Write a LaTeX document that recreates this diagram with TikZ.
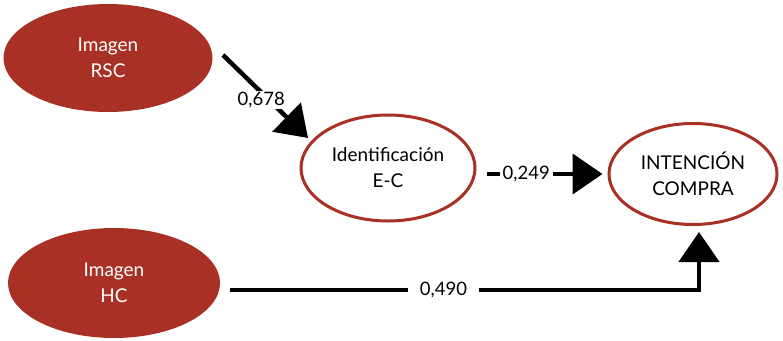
\documentclass[tikz,border=0pt]{standalone}
\usepackage{fontspec}
\setmainfont{Lato}
\usetikzlibrary{arrows.meta,shapes.geometric}
\definecolor{brick}{RGB}{168,48,36}
\begin{document}
\begin{tikzpicture}[x=1pt,y=-1pt,
  construct/.style={ellipse, inner sep=0pt, align=center, font=\fontsize{19}{26}\selectfont},
  filledc/.style={construct, fill=brick, text=white},
  openc/.style={construct, draw=brick, line width=3pt, fill=white, text=black},
  path/.style={line width=4.5pt, -{Triangle[length=30pt,width=40pt]}},
  coef/.style={fill=white, font=\fontsize{18.5}{20}\selectfont, inner ysep=1pt}]
\useasboundingbox (0,0) rectangle (783,340);
% constructs
\node[filledc, minimum width=209pt, minimum height=108pt] (rsc) at (108,58) {Imagen\\RSC};
\node[filledc, minimum width=212pt, minimum height=110pt] (hc) at (114,283) {Imagen\\HC};
\node[openc, minimum width=174pt, minimum height=106pt] (ident) at (388,168) {Identificación\\E-C};
\node[openc, minimum width=168pt, minimum height=101pt] (intent) at (693,174) {INTENCIÓN\\COMPRA};
% path coefficients
\coordinate (s1) at (223,55);
\coordinate (t1) at (308,138);
\coordinate (bend) at (699,290);
\draw[path] (s1) -- node[coef, pos=0.45, inner xsep=2pt, yshift=-8pt] {0,678} (t1);
\draw[path, shorten <=10pt, shorten >=5pt] (ident.east |- intent.west) -- node[coef, pos=0.38, inner xsep=3pt] {0,249} (intent.west);
\draw[path, shorten >=6pt] ([xshift=10pt]hc.east |- bend) -- node[coef, pos=0.455, inner xsep=12pt] {0,490} (bend) -- (bend |- intent.south);
\end{tikzpicture}
\end{document}
